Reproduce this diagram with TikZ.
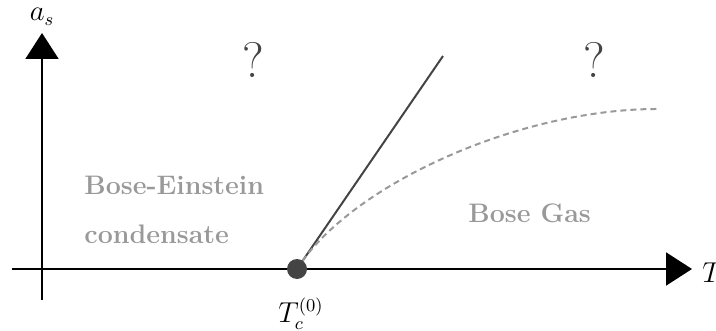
\documentclass[tikz,border=0pt]{standalone}
\usetikzlibrary{arrows.meta}
\definecolor{dk}{HTML}{444444}
\definecolor{lg}{HTML}{999999}
\begin{document}
\begin{tikzpicture}[x=0.5pt,y=-0.5pt,
  axis/.style={line width=1pt,-{Triangle[length=13pt,width=16.5pt]}},
  region/.style={text=lg,font=\fontsize{13.4}{15}\selectfont\bfseries,inner sep=0,anchor=base west},
  qmark/.style={text=dk,font=\fontsize{25}{28}\selectfont,inner sep=0,anchor=base},
  lbl/.style={font=\fontsize{13.5}{16}\selectfont,inner sep=0},
  dot/.style={circle,fill=dk,minimum size=10pt,inner sep=0},
  boundary/.style={dk,line width=1pt},
  crossover/.style={lg,line width=1pt,dash pattern=on 3pt off 2pt}]
\useasboundingbox (0,0) rectangle (716,331);
\coordinate (xs) at (12,269);
\coordinate (xe) at (692,269);
\coordinate (ys) at (42,300);
\coordinate (ye) at (42,33);
\draw[axis] (xs) -- (xe);
\draw[axis] (ys) -- (ye);
\node[lbl,anchor=base west] (T) at (702,282) {$T$};
\node[lbl,anchor=base] (as) at (42,21) {$a_s$};
\coordinate (c0) at (297,269);
\coordinate (le) at (443,56);
\coordinate (de) at (660,109);
\draw[boundary] (c0) -- (le);
\draw[crossover] (c0) .. controls (350,185) and (520,108) .. (de);
\node[dot] (tc) at (c0) {};
\node[lbl,anchor=base] (tcl) at (301,322) {$T_c^{(0)}$};
\node[qmark] (q1) at (253,78) {?};
\node[qmark] (q2) at (594,78) {?};
\node[region] (bec1) at (84,195) {Bose-Einstein};
\node[region] (bec2) at (84,243) {condensate};
\node[region] (gas) at (468,222) {Bose Gas};
\end{tikzpicture}
\end{document}
